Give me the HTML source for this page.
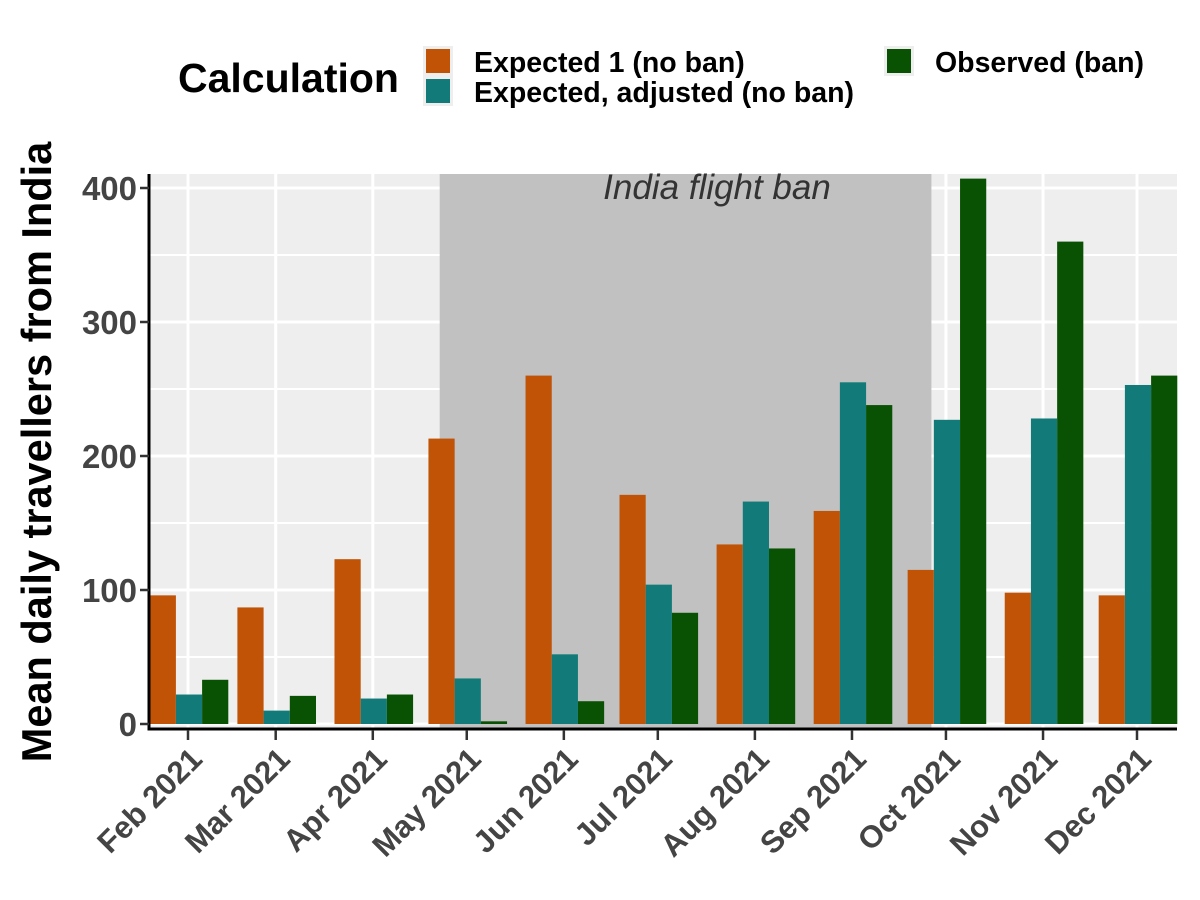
<!DOCTYPE html>
<html><head><meta charset="utf-8"><style>
body{margin:0;background:#fff}
svg{display:block;font-family:"Liberation Sans",sans-serif}
</style></head><body>
<svg id="chart" width="1200" height="900" viewBox="0 0 1200 900">
<g>
<text x="178" y="92" font-size="41" font-weight="bold" fill="#000">Calculation</text>
<rect x="423" y="46" width="30" height="60" fill="#eeeeee"/>
<rect x="426" y="49" width="24" height="24" fill="#c05306"/>
<rect x="426" y="79" width="24" height="24" fill="#127b79"/>
<text x="474" y="72" font-size="28.5" font-weight="bold">Expected 1 (no ban)</text>
<text x="474" y="102" font-size="28.5" font-weight="bold">Expected, adjusted (no ban)</text>
<rect x="884" y="46" width="30" height="30" fill="#eeeeee"/>
<rect x="887" y="49" width="24" height="24" fill="#0a5203"/>
<text x="935" y="72" font-size="28.5" font-weight="bold">Observed (ban)</text>
</g>
<rect x="149" y="174" width="1028" height="554" fill="#eeeeee"/>
<g id="grid"></g>
<rect id="shade" fill="#c1c1c1"/>
<text id="shadeLabel" font-size="35" font-style="italic" fill="#333" text-anchor="middle">India flight ban</text>
<g id="bars"></g>
<g id="axes"></g>
<text transform="translate(51,452) rotate(-90)" font-size="41.5" font-weight="bold" text-anchor="middle">Mean daily travellers from India</text>
</svg>
<script>
const months=["Feb 2021","Mar 2021","Apr 2021","May 2021","Jun 2021","Jul 2021","Aug 2021","Sep 2021","Oct 2021","Nov 2021","Dec 2021"];
const monthDay=[31,59,90,120,151,181,212,243,273,304,334];
const expected1=[96,87,123,213,260,171,134,159,115,98,96];
const adjusted=[22,10,19,34,52,104,166,255,227,228,253];
const observed=[33,21,22,2,17,83,131,238,407,360,260];
const yTicks=[0,100,200,300,400];
const banStartDay=112, banEndDay=269;
const NS="http://www.w3.org/2000/svg";
const xS=d=>188+(d-31)*3.132;
const yS=v=>724-v*1.34;
const L=149,R=1177,T=174,B=728;
function mk(t,a,p){const e=document.createElementNS(NS,t);for(const k in a)e.setAttribute(k,a[k]);p.appendChild(e);return e;}
const grid=document.getElementById('grid'),bars=document.getElementById('bars'),axes=document.getElementById('axes');
for(let v=0;v<=400;v+=50){const l=mk('line',{x1:L,x2:R,y1:yS(v),y2:yS(v),stroke:'#fff','stroke-width':v%100?2:3},grid);

}
monthDay.forEach(d=>{const l=mk('line',{x1:xS(d),x2:xS(d),y1:T,y2:B,stroke:'#fff','stroke-width':3},grid);

});
const sh=document.getElementById('shade');
sh.setAttribute('x',xS(banStartDay)-2);sh.setAttribute('y',T);sh.setAttribute('width',xS(banEndDay)-xS(banStartDay));sh.setAttribute('height',B-T);
const sl=document.getElementById('shadeLabel');
sl.setAttribute('x',717);sl.setAttribute('y',199);
const series=[[expected1,'#c05306','bar-expected'],[adjusted,'#127b79','bar-adjusted'],[observed,'#0a5203','bar-observed']];
const bw=26.2;
months.forEach((m,i)=>{const c=xS(monthDay[i])+1;
series.forEach((s,j)=>{const v=s[0][i];
const r=mk('rect',{x:c-1.5*bw+j*bw,y:yS(v),width:bw,height:v*1.34,fill:s[1]},bars);

});});
const ya=mk('line',{x1:L,x2:L,y1:T,y2:B+2,stroke:'#000','stroke-width':3},axes);


const xa=mk('line',{x1:L-1.5,x2:R,y1:B+1,y2:B+1,stroke:'#000','stroke-width':3},axes);


yTicks.forEach(v=>{const t=mk('line',{x1:L-9,x2:L,y1:yS(v),y2:yS(v),stroke:'#333','stroke-width':2.5},axes);


const tx=mk('text',{x:L-12,y:yS(v)+12,'font-size':33,'font-weight':'bold',fill:'#444','text-anchor':'end'},axes);
tx.textContent=v;

});
months.forEach((m,i)=>{const x=xS(monthDay[i]);
const t=mk('line',{x1:x,x2:x,y1:B+2,y2:B+12,stroke:'#333','stroke-width':2.5},axes);


const tx=mk('text',{transform:`translate(${x+16},${B+33}) rotate(-45)`,'font-size':31,'font-weight':'bold',fill:'#444','text-anchor':'end'},axes);
tx.textContent=m;

});
</script>
</body></html>
